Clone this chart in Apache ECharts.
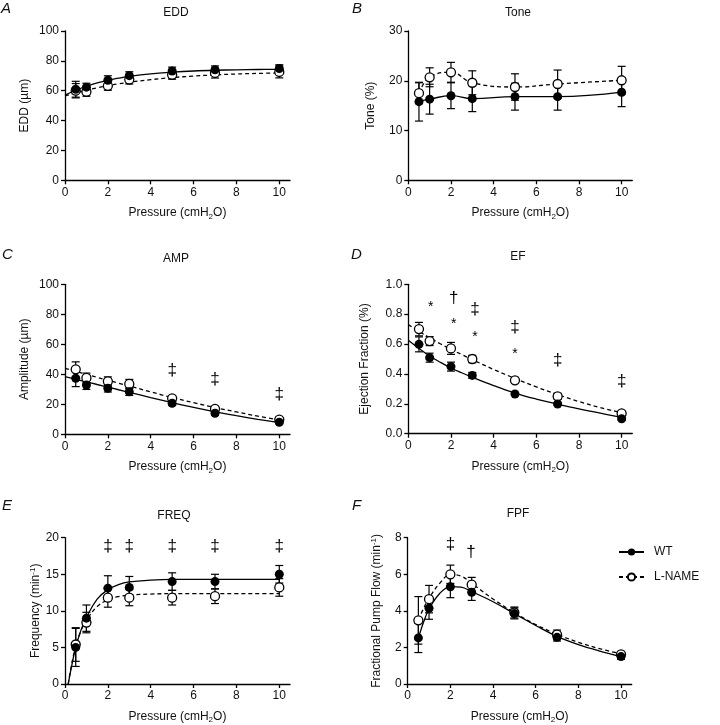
<!DOCTYPE html>
<html>
<head>
<meta charset="utf-8">
<script src="https://cdn.jsdelivr.net/npm/echarts@6/dist/echarts.min.js"></script>
<style>
html,body{margin:0;padding:0;background:#fff;}
#chart{width:720px;height:725px;}
</style>
</head>
<body>
<div id="chart"></div>
<script>
// ---------------- DATA ----------------
const pressure = [0.5, 1, 2, 3, 5, 7, 10];
const xTicks = [0, 2, 4, 6, 8, 10];

// A: EDD (µm)
const eddWT = [61, 62.4, 67, 70.1, 73.2, 74, 74.8];
const eddWTErr = [5.3, 2.6, 3, 2.6, 2.6, 2.6, 2.6];
const eddLN = [60, 59.3, 63.3, 67.5, 70.7, 71.9, 72.6];
const eddLNErr = [4.8, 3, 3, 3, 3, 3.4, 4];
const eddFitX = [0, 0.5, 1, 1.5, 2, 2.5, 3, 4, 5, 6, 7, 8, 9, 10];
const eddFitWT = [57, 60.3, 63, 65.2, 67, 68.4, 69.6, 71.3, 72.4, 73.2, 73.7, 74, 74.2, 74.3];
const eddFitLN = [56.5, 58.5, 60.3, 61.9, 63.4, 64.6, 65.7, 67.4, 68.8, 69.8, 70.6, 71.2, 71.6, 71.9];

// B: Tone (%)
const toneWT = [15.8, 16.3, 17.0, 16.4, 16.8, 16.8, 17.7];
const toneWTErr = [3.9, 3.0, 2.6, 2.6, 2.7, 2.7, 2.9];
const toneLN = [17.5, 20.7, 21.7, 19.6, 18.75, 19.35, 20.1];
const toneLNErr = [2.1, 1.9, 2.0, 2.4, 2.65, 2.8, 2.8];

// C: Amplitude (µm)
const ampWT = [37.3, 32.9, 30.7, 28.4, 20.7, 14.0, 8.0];
const ampWTErr = [5.5, 3, 2.5, 2.5, 1.5, 1.2, 1];
const ampLN = [43.3, 37.6, 35.3, 33.6, 24.0, 16.9, 9.8];
const ampLNErr = [5, 3.2, 3, 3, 1.5, 1.2, 1];
const ampFitX = [0, 0.5, 1, 1.5, 2, 2.5, 3, 4, 5, 6, 7, 8, 9, 10];
const ampFitWT = [38.5, 36.7, 35, 33.2, 31.5, 29.7, 28, 24.5, 21.1, 17.9, 15, 12.4, 10, 7.8];
const ampFitLN = [44, 42, 40, 38, 36, 34.1, 32.2, 28.3, 24.5, 21.1, 17.8, 14.9, 12.1, 9.5];

// D: Ejection fraction
const efWT = [0.598, 0.509, 0.449, 0.39, 0.266, 0.199, 0.10];
const efWTErr = [0.05, 0.03, 0.03, 0.02, 0.01, 0.01, 0.01];
const efLN = [0.70, 0.62, 0.571, 0.50, 0.357, 0.25, 0.136];
const efLNErr = [0.045, 0.03, 0.04, 0.025, 0.02, 0.02, 0.015];
const efFitX = [0, 0.5, 1, 1.5, 2, 2.5, 3, 4, 5, 6, 7, 8, 9, 10];
const efFitWT = [0.625, 0.57, 0.52, 0.478, 0.44, 0.408, 0.378, 0.322, 0.272, 0.232, 0.198, 0.166, 0.137, 0.11];
const efFitLN = [0.73, 0.685, 0.642, 0.602, 0.565, 0.53, 0.496, 0.43, 0.37, 0.313, 0.262, 0.215, 0.175, 0.14];

// E: Frequency (min-1)
const freqWT = [5.0, 9.0, 13.1, 13.2, 14.0, 14.0, 15.0];
const freqWTErr = [2.6, 1.8, 1.7, 1.5, 1.2, 1.0, 1.2];
const freqLN = [5.4, 8.4, 11.8, 11.8, 11.8, 12.0, 13.2];
const freqLNErr = [2.3, 1.4, 1.3, 1.1, 1.0, 1.0, 1.2];
const freqFitX = [0.15, 0.3, 0.5, 0.75, 1, 1.5, 2, 2.5, 3, 4, 5, 6, 7, 8, 9, 10];
const freqFitWT = [0, 2.3, 5.0, 7.4, 9.1, 11.6, 12.9, 13.6, 13.95, 14.2, 14.3, 14.3, 14.3, 14.3, 14.3, 14.3];
const freqFitLN = [0, 2.5, 5.2, 7.3, 8.7, 10.6, 11.5, 11.95, 12.15, 12.3, 12.35, 12.35, 12.35, 12.35, 12.35, 12.35];

// F: Fractional pump flow (min-1)
const fpfWT = [2.52, 4.14, 5.32, 5.02, 3.86, 2.55, 1.5];
const fpfWTErr = [0.8, 0.6, 0.6, 0.45, 0.3, 0.2, 0.15];
const fpfLN = [3.48, 4.64, 6.0, 5.43, 3.91, 2.7, 1.62];
const fpfLNErr = [1.3, 0.75, 0.5, 0.4, 0.3, 0.25, 0.15];
const fpfFitX = [0.5, 0.75, 1, 1.5, 2, 2.5, 3, 4, 5, 6, 7, 8, 9, 10];
const fpfFitWT = [2.5, 3.4, 4.1, 4.95, 5.33, 5.3, 5.05, 4.5, 3.85, 3.2, 2.6, 2.15, 1.8, 1.5];
const fpfFitLN = [3.5, 4.15, 4.7, 5.5, 5.98, 5.9, 5.5, 4.65, 3.9, 3.25, 2.72, 2.28, 1.93, 1.65];

// significance annotations [x, y, text]
const annC = [[5, 42.7, '‡'], [7, 36.7, '‡'], [10, 26.7, '‡']];
const annD = [[1.05, 0.86, '*'], [2.13, 0.906, '†'], [2.13, 0.745, '*'], [3.13, 0.833, '‡'], [3.13, 0.66, '*'],
              [5, 0.71, '‡'], [5, 0.547, '*'], [7, 0.493, '‡'], [10, 0.35, '‡']];
const annE = [[2, 18.8, '‡'], [3, 18.8, '‡'], [5, 18.8, '‡'], [7, 18.8, '‡'], [10, 18.8, '‡']];
const annF = [[2, 7.66, '‡'], [2.97, 7.21, '†']];

const panelTitles = ['EDD', 'Tone', 'AMP', 'EF', 'FREQ', 'FPF'];
const panelLetters = ['A', 'B', 'C', 'D', 'E', 'F'];

// ---------------- LAYOUT / STYLE ----------------
const FONT = "'Liberation Sans', Arial, Helvetica, sans-serif";
const grids = [
  {left: 65, top: 31, width: 225, height: 149.3},
  {left: 408.3, top: 31, width: 224, height: 149.3},
  {left: 65, top: 284.3, width: 225, height: 150},
  {left: 408.3, top: 284.3, width: 224, height: 149.4},
  {left: 65, top: 537.7, width: 225, height: 149.3},
  {left: 407.7, top: 537.7, width: 224, height: 149.3}
];
const richName = {
  a: {fontSize: 12, fontFamily: FONT, color: '#111'},
  s: {fontSize: 8, fontFamily: FONT, color: '#111', padding: [7, 0, 0, 0]},
  p: {fontSize: 8, fontFamily: FONT, color: '#111', padding: [0, 0, 6, 0]}
};
const axisLineStyle = {color: '#000', width: 1.3};

function xAxisFor(i) {
  return {
    gridIndex: i, type: 'value', min: 0, max: 10.5, interval: 2,
    axisLine: {show: true, lineStyle: axisLineStyle},
    axisTick: {show: true, length: 4, lineStyle: axisLineStyle, customValues: xTicks},
    axisLabel: {fontSize: 12, fontFamily: FONT, color: '#111', margin: 6, customValues: xTicks},
    splitLine: {show: false},
    name: '{a|Pressure (cmH}{s|2}{a|O)}', nameLocation: 'middle', nameGap: 25,
    nameTextStyle: {rich: richName}
  };
}
function yAxisFor(i, max, interval, name, gap, fmt) {
  return {
    gridIndex: i, type: 'value', min: 0, max: max, interval: interval,
    axisLine: {show: true, lineStyle: axisLineStyle},
    axisTick: {show: true, length: 4, lineStyle: axisLineStyle},
    axisLabel: {fontSize: 12, fontFamily: FONT, color: '#111', margin: 6, formatter: fmt},
    splitLine: {show: false},
    name: name, nameLocation: 'middle', nameGap: gap, nameRotate: 90,
    nameTextStyle: {rich: richName}
  };
}

function zip(xs, ys) { return xs.map((x, k) => [x, ys[k]]); }
function errData(means, errs) { return pressure.map((x, k) => [x, means[k] - errs[k], means[k] + errs[k]]); }

function renderErr(params, api) {
  const x = api.value(0), lo = api.value(1), hi = api.value(2);
  const p1 = api.coord([x, hi]), p2 = api.coord([x, lo]);
  const w = 4;
  const st = {stroke: '#000', lineWidth: 1.2};
  return {type: 'group', children: [
    {type: 'line', shape: {x1: p1[0], y1: p1[1], x2: p2[0], y2: p2[1]}, style: st},
    {type: 'line', shape: {x1: p1[0] - w, y1: p1[1], x2: p1[0] + w, y2: p1[1]}, style: st},
    {type: 'line', shape: {x1: p2[0] - w, y1: p2[1], x2: p2[0] + w, y2: p2[1]}, style: st}
  ]};
}
function makeAnnRender(ann) {
  return function (params, api) {
    const p = api.coord([api.value(0), api.value(1)]);
    const t = ann[params.dataIndex][2];
    const small = t === '*';
    return {type: 'text', x: p[0], y: p[1] + (small ? 2 : 0), style: {
      text: t, fill: '#000', font: (small ? '14px ' : '17px ') + FONT,
      textAlign: 'center', textVerticalAlign: 'middle'}};
  };
}

const series = [];
function addPanel(i, wt, wtErr, ln, lnErr, fitX, fitWT, fitLN, smoothMeans) {
  const lnLine = smoothMeans ? zip(pressure, ln) : zip(fitX, fitLN);
  const wtLine = smoothMeans ? zip(pressure, wt) : zip(fitX, fitWT);
  const sm = smoothMeans ? 0.45 : 0.4;
  series.push({type: 'line', xAxisIndex: i, yAxisIndex: i, data: lnLine, smooth: sm,
    symbol: 'none', lineStyle: {color: '#000', width: 1.3, type: [4, 3]}, z: 2, silent: true});
  series.push({type: 'line', xAxisIndex: i, yAxisIndex: i, data: wtLine, smooth: sm,
    symbol: 'none', lineStyle: {color: '#000', width: 1.3}, z: 2, silent: true});
  series.push({type: 'custom', xAxisIndex: i, yAxisIndex: i, data: errData(ln, lnErr), renderItem: renderErr, z: 3, silent: true});
  series.push({type: 'custom', xAxisIndex: i, yAxisIndex: i, data: errData(wt, wtErr), renderItem: renderErr, z: 3, silent: true});
  series.push({type: 'scatter', xAxisIndex: i, yAxisIndex: i, data: zip(pressure, ln), symbol: 'circle', symbolSize: 9,
    itemStyle: {color: '#fff', borderColor: '#000', borderWidth: 1.3, opacity: 1}, z: 4, silent: true});
  series.push({type: 'scatter', xAxisIndex: i, yAxisIndex: i, data: zip(pressure, wt), symbol: 'circle', symbolSize: 9,
    itemStyle: {color: '#000', opacity: 1}, z: 5, silent: true});
}
function addAnn(i, ann) {
  series.push({type: 'custom', xAxisIndex: i, yAxisIndex: i, data: ann.map(a => [a[0], a[1]]),
    renderItem: makeAnnRender(ann), z: 6, silent: true});
}

addPanel(0, eddWT, eddWTErr, eddLN, eddLNErr, eddFitX, eddFitWT, eddFitLN, false);
addPanel(1, toneWT, toneWTErr, toneLN, toneLNErr, null, null, null, true);
addPanel(2, ampWT, ampWTErr, ampLN, ampLNErr, ampFitX, ampFitWT, ampFitLN, false);
addPanel(3, efWT, efWTErr, efLN, efLNErr, efFitX, efFitWT, efFitLN, false);
addPanel(4, freqWT, freqWTErr, freqLN, freqLNErr, freqFitX, freqFitWT, freqFitLN, false);
addPanel(5, fpfWT, fpfWTErr, fpfLN, fpfLNErr, fpfFitX, fpfFitWT, fpfFitLN, false);
addAnn(2, annC); addAnn(3, annD); addAnn(4, annE); addAnn(5, annF);

// legend-only series
series.push({type: 'line', name: 'WT', xAxisIndex: 5, yAxisIndex: 5, data: [], symbol: 'circle', symbolSize: 9,
  itemStyle: {color: '#000'}, lineStyle: {color: '#000', width: 1.3}});
series.push({type: 'line', name: 'L-NAME', xAxisIndex: 5, yAxisIndex: 5, data: [], symbol: 'circle', symbolSize: 9,
  itemStyle: {color: '#fff', borderColor: '#000', borderWidth: 1.3}, lineStyle: {color: '#000', width: 1.3, type: [4, 3]}});

// titles & letters
const titlePos = [[176, 12.7], [518, 12.7], [176, 259], [518, 257], [174, 516], [518, 514]];
const letterPos = [[1, 8.5], [352, 8.5], [2, 255], [351, 255], [2, 506], [352, 506]];
const graphics = [];
panelTitles.forEach((t, k) => graphics.push({type: 'text', x: titlePos[k][0], y: titlePos[k][1],
  style: {text: t, font: '12px ' + FONT, fill: '#111', textAlign: 'center', textVerticalAlign: 'middle'}}));
panelLetters.forEach((t, k) => graphics.push({type: 'text', x: letterPos[k][0], y: letterPos[k][1],
  style: {text: t, font: 'italic 15px ' + FONT, fill: '#111', textAlign: 'left', textVerticalAlign: 'middle'}}));

const option = {
  animation: false,
  backgroundColor: '#fff',
  grid: grids,
  xAxis: [0, 1, 2, 3, 4, 5].map(xAxisFor),
  yAxis: [
    yAxisFor(0, 100, 20, '{a|EDD (µm)}', 34),
    yAxisFor(1, 30, 10, '{a|Tone (%)}', 32),
    yAxisFor(2, 100, 20, '{a|Amplitude (µm)}', 34),
    yAxisFor(3, 1.0, 0.2, '{a|Ejection Fraction (%)}', 38, v => v.toFixed(1)),
    yAxisFor(4, 20, 5, '{a|Frequency (min}{p|-1}{a|)}', 22),
    yAxisFor(5, 8, 2, '{a|Fractional Pump Flow (min}{p|-1}{a|)}', 24)
  ],
  legend: {
    orient: 'vertical', left: 618, top: 546, padding: 0, itemWidth: 25, itemHeight: 9, itemGap: 13,
    data: ['WT', 'L-NAME'],
    textStyle: {fontSize: 12, fontFamily: FONT, color: '#111', padding: [0, 0, 0, 5]},
    selectedMode: false
  },
  graphic: graphics,
  series: series
};
const chart = echarts.init(document.getElementById('chart'), null, {renderer: 'canvas'});
chart.setOption(option);
</script>
</body>
</html>
